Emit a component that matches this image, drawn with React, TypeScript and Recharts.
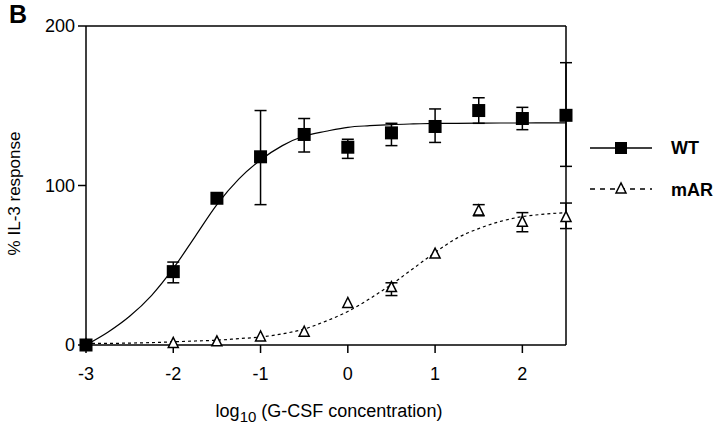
import React from "react";
import {
  ComposedChart,
  Scatter,
  XAxis,
  YAxis,
  ErrorBar,
  ReferenceLine,
  Label,
} from "recharts";

// measured points
const doses = [-3, -2, -1.5, -1, -0.5, 0, 0.5, 1, 1.5, 2, 2.5];
const wtMean = [0, 46, 92, 118, 132, 124, 133, 137, 147, 142, 144];
const wtHigh = [null, 52, null, 147, 142, 129, 139, 148, 155, 149, 177];
const wtLow = [null, 39, null, 88, 121, 117, 125, 127, 139, 135, 112];
const marMean = [0, 1, 2, 5, 8, 26, 36, 57, 84, 77, 80];
const marHigh = [null, null, null, null, null, null, 39, null, 88, 83, 89];
const marLow = [null, null, null, null, null, null, 31, null, 81, 71, 73];

// fitted curves
const fitX = [
  -3, -2.75, -2.5, -2.25, -2, -1.75, -1.5, -1.25, -1, -0.75, -0.5, -0.25, 0,
  0.25, 0.5, 0.75, 1, 1.25, 1.5, 1.75, 2, 2.25, 2.5,
];
const wtFit = [
  0, 8, 18, 31, 48, 68, 88, 104, 116, 125, 131, 134, 136.5, 137.5, 138.2,
  138.6, 138.9, 139, 139.1, 139.2, 139.2, 139.3, 139.3,
];
const marFit = [
  1, 1, 1.2, 1.5, 2, 2.5, 3, 4, 5, 7, 10, 15, 21, 29, 38, 48, 58, 67, 73,
  77.5, 80.5, 82, 83,
];

const xTicks = [-3, -2, -1, 0, 1, 2];
const yTicks = [0, 100, 200];

const toPoints = (mean: number[], hi: (number | null)[], lo: (number | null)[]) =>
  doses.map((x, i) => ({
    x,
    y: mean[i],
    err: hi[i] == null ? undefined : [mean[i] - (lo[i] as number), (hi[i] as number) - mean[i]],
  }));

const wtPoints = toPoints(wtMean, wtHigh, wtLow);
const marPoints = toPoints(marMean, marHigh, marLow);
const wtCurve = fitX.map((x, i) => ({ x, y: wtFit[i] }));
const marCurve = fitX.map((x, i) => ({ x, y: marFit[i] }));

const FONT = '"Liberation Sans", Arial, sans-serif';

const Square = (p: any) => (
  <rect x={p.cx - 6.5} y={p.cy - 6.5} width={13} height={13} fill="#000" />
);
const Triangle = (p: any) => (
  <polygon
    points={`${p.cx},${p.cy - 6} ${p.cx - 5},${p.cy + 4} ${p.cx + 5},${p.cy + 4}`}
    fill="#fff"
    stroke="#000"
    strokeWidth={1.5}
  />
);
const NoDot = () => <g />;

export default function App() {
  return (
    <div style={{ position: "absolute", left: 0, top: 0, width: 720, height: 426, background: "#fff" }}>
      <div
        style={{
          position: "absolute",
          left: 9,
          top: 2,
          lineHeight: 1,
          fontFamily: FONT,
          fontWeight: "bold",
          fontSize: 25,
        }}
      >
        B
      </div>
      <svg
        width={135}
        height={80}
        style={{ position: "absolute", left: 585, top: 130, fontFamily: FONT }}
      >
        <line x1={5} y1={18} x2={67} y2={18} stroke="#000" strokeWidth={1.5} />
        <rect x={30} y={12} width={12} height={12} fill="#000" />
        <text x={86} y={24} fontSize={18} fontWeight="bold">WT</text>
        <line x1={5} y1={59} x2={67} y2={59} stroke="#000" strokeWidth={1.3} strokeDasharray="5 5" />
        <polygon points="36,53 31,63 41,63" fill="#fff" stroke="#000" strokeWidth={1.5} />
        <text x={86} y={66} fontSize={18} fontWeight="bold">mAR</text>
      </svg>
      <ComposedChart
        width={720}
        height={426}
        margin={{ top: 26, right: 154, bottom: 51, left: 0 }}
        style={{ fontFamily: FONT }}
      >
        <XAxis
          dataKey="x"
          type="number"
          domain={[-3, 2.5]}
          ticks={xTicks}
          height={30}
          tickSize={8}
          tickMargin={14}
          stroke="#000"
          strokeWidth={1.5}
          tick={{ fill: "#000", fontSize: 18 }}
        >
          <Label
            content={() => (
              <text x={329} y={417} textAnchor="middle" fontSize={18} fill="#000" fontFamily={FONT}>
                log
                <tspan fontSize={15} dy={5}>10</tspan>
                <tspan dy={-5}> (G-CSF concentration)</tspan>
              </text>
            )}
          />
        </XAxis>
        <YAxis
          dataKey="y"
          type="number"
          domain={[0, 200]}
          ticks={yTicks}
          width={86}
          tickSize={8}
          tickMargin={3}
          stroke="#000"
          strokeWidth={1.5}
          tick={{ fill: "#000", fontSize: 18 }}
        >
          <Label
            value="% IL-3 response"
            angle={-90}
            position="insideLeft"
            offset={14}
            dy={8}
            style={{ textAnchor: "middle", fontSize: 17, fill: "#000" }}
          />
        </YAxis>
        <ReferenceLine y={200} stroke="#000" strokeWidth={1.5} />
        <ReferenceLine x={2.5} stroke="#000" strokeWidth={1.5} />
        <Scatter
          data={wtCurve}
          line={{ stroke: "#000", strokeWidth: 1.2 }}
          lineJointType="monotoneX"
          shape={NoDot}
          isAnimationActive={false}
          legendType="none"
        />
        <Scatter
          data={marCurve}
          line={{ stroke: "#000", strokeWidth: 1.2, strokeDasharray: "3 3" }}
          lineJointType="monotoneX"
          shape={NoDot}
          isAnimationActive={false}
          legendType="none"
        />
        <Scatter name="mAR" data={marPoints} shape={Triangle} isAnimationActive={false}>
          <ErrorBar dataKey="err" direction="y" width={6} stroke="#000" strokeWidth={1.5} />
        </Scatter>
        <Scatter name="WT" data={wtPoints} shape={Square} isAnimationActive={false}>
          <ErrorBar dataKey="err" direction="y" width={6} stroke="#000" strokeWidth={1.5} />
        </Scatter>
      </ComposedChart>
    </div>
  );
}
